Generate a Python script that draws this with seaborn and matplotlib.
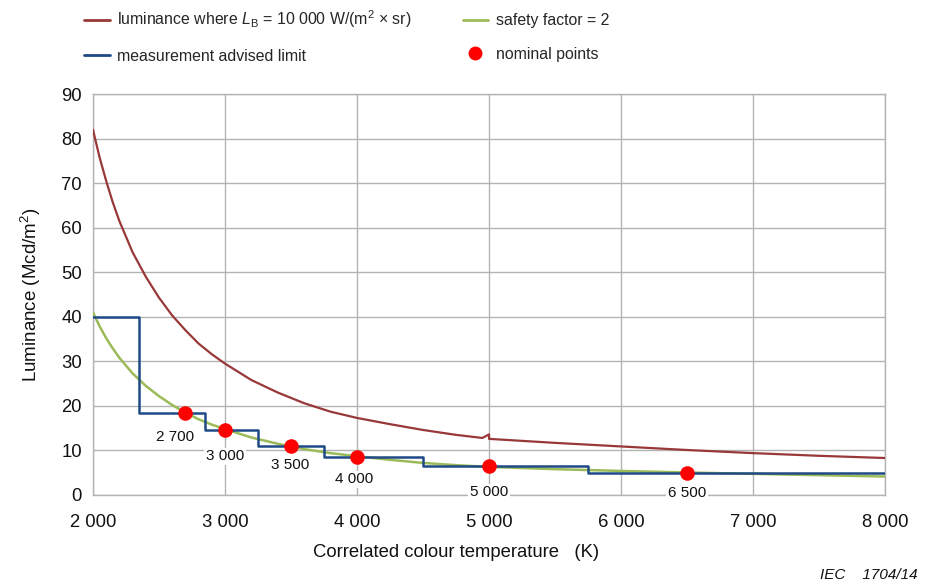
import pandas as pd
import matplotlib
matplotlib.use("Agg")
from matplotlib import pyplot as plt
from matplotlib.lines import Line2D
import seaborn as sns

# luminance where L_B = 10 000 W/(m2 x sr)
cct_lum = [2000, 2050, 2100, 2150, 2200, 2300, 2400, 2500, 2600, 2700, 2800, 2900, 3000, 3200, 3400,
           3600, 3800, 4000, 4250, 4500, 4750, 4950, 5000, 5001, 5500, 6000, 6500, 7000,
           7500, 8000]
lum_limit = [82, 75.8, 70.5, 65.7, 61.5, 54.5, 49, 44.3, 40.3, 37, 34, 31.6, 29.5, 25.8, 23,
             20.6, 18.7, 17.3, 15.9, 14.6, 13.5, 12.8, 13.6, 12.6, 11.7, 10.9, 10.1, 9.4,
             8.8, 8.3]

# safety factor = 2
cct_safe = [2000, 2050, 2100, 2150, 2200, 2300, 2400, 2500, 2600, 2700, 2800, 2900, 3000, 3200, 3400,
            3600, 3800, 4000, 4250, 4500, 4750, 5000, 5500, 6000, 6500, 7000, 7500, 8000]
lum_safe = [41, 37.9, 35.2, 32.9, 30.8, 27.3, 24.5, 22.2, 20.2, 18.5, 17.0, 15.8, 14.8, 12.9, 11.5,
            10.3, 9.4, 8.7, 7.9, 7.2, 6.7, 6.3, 5.8, 5.4, 5.05, 4.75, 4.45, 4.15]

# measurement advised limit (steps)
cct_steps = [2000, 2350, 2850, 3250, 3750, 4500, 5750, 8000]
lum_steps = [40, 18.5, 14.5, 11, 8.5, 6.5, 5, 5]

# nominal points
cct_nom = [2700, 3000, 3500, 4000, 5000, 6500]
lum_nom = [18.5, 14.5, 11, 8.5, 6.5, 5]
nom_labels = ["2 700", "3 000", "3 500", "4 000", "5 000", "6 500"]

x_ticks = [2000, 3000, 4000, 5000, 6000, 7000, 8000]
x_ticklabels = ["2 000", "3 000", "4 000", "5 000", "6 000", "7 000", "8 000"]
y_ticks = list(range(0, 91, 10))

sns.set_style("white")
plt.rcParams['font.family'] = ['Liberation Sans', 'DejaVu Sans']
plt.rcParams['mathtext.fontset'] = 'custom'
plt.rcParams['mathtext.rm'] = 'Liberation Sans'
plt.rcParams['mathtext.it'] = 'Liberation Sans:italic'

RED = "#993838"
GREEN = "#9bbb59"
BLUE = "#1f4a86"
DOT = "#ff0000"
GRID = "#b3b3b3"

fig = plt.figure(figsize=(9.25, 5.84), dpi=100)
ax = fig.add_axes([0.1005, 0.1524, 0.8562, 0.6866])

df_lum = pd.DataFrame({"cct": cct_lum, "lum": lum_limit})
df_safe = pd.DataFrame({"cct": cct_safe, "lum": lum_safe})
df_steps = pd.DataFrame({"cct": cct_steps, "lum": lum_steps})
df_nom = pd.DataFrame({"cct": cct_nom, "lum": lum_nom})

sns.lineplot(data=df_lum, x="cct", y="lum", ax=ax, color=RED, lw=1.6, estimator=None, zorder=3)
sns.lineplot(data=df_safe, x="cct", y="lum", ax=ax, color=GREEN, lw=1.8, estimator=None, zorder=3)
sns.lineplot(data=df_steps, x="cct", y="lum", ax=ax, color=BLUE, lw=1.8, estimator=None,
             drawstyle="steps-post", zorder=4)
sns.scatterplot(data=df_nom, x="cct", y="lum", ax=ax, color=DOT, s=110, linewidth=0, zorder=5)

offsets = [(-10, -24), (0, -26), (-1, -19), (-3, -22), (0, -26), (0, -20)]
for x, y, lab, off in zip(cct_nom, lum_nom, nom_labels, offsets):
    ax.annotate(lab, (x, y), xytext=off, textcoords="offset pixels", ha="center", va="center",
                fontsize=11, color="#111111", zorder=6,
                bbox=dict(boxstyle="square,pad=0.1", fc="white", ec="none"))

ax.set_xlim(2000, 8000)
ax.set_ylim(0, 90)
ax.set_xticks(x_ticks)
ax.set_xticklabels(x_ticklabels)
ax.set_yticks(y_ticks)
ax.grid(True, color=GRID, lw=1)
for sp in ax.spines.values():
    sp.set_color(GRID)
    sp.set_linewidth(1)
ax.tick_params(axis="both", direction="out", length=6, width=1, color=GRID,
               labelsize=13.3, labelcolor="#111111")
ax.tick_params(axis="x", pad=8)
ax.tick_params(axis="y", pad=2)
ax.set_xlabel("Correlated colour temperature   (K)", fontsize=13.3, labelpad=9,
              color="#111111", x=0.458)
ax.set_ylabel("Luminance (Mcd/m$^2$)", fontsize=13.5, labelpad=13, color="#111111")

handles = [
    Line2D([], [], color=RED, lw=2),
    Line2D([], [], color=BLUE, lw=2),
    Line2D([], [], color=GREEN, lw=2),
    Line2D([], [], color=DOT, marker="o", ls="none", markersize=10, markeredgewidth=0),
]
labels = [
    r"luminance where $L_\mathrm{B}$ = 10 000 W/(m$^2$ × sr)",
    "measurement advised limit",
    "safety factor = 2",
    "nominal points",
]
fig.legend(handles, labels, ncol=2, loc="upper left", bbox_to_anchor=(0.091, 0.985),
           frameon=False, fontsize=11.4, handlelength=1.6, handletextpad=0.5,
           labelspacing=1.15, columnspacing=3.2, borderpad=0, borderaxespad=0)

fig.text(0.992, 0.003, "IEC    1704/14", ha="right", va="bottom", fontsize=11,
         style="italic", color="#111111")

fig.savefig("out.png", dpi=100)
